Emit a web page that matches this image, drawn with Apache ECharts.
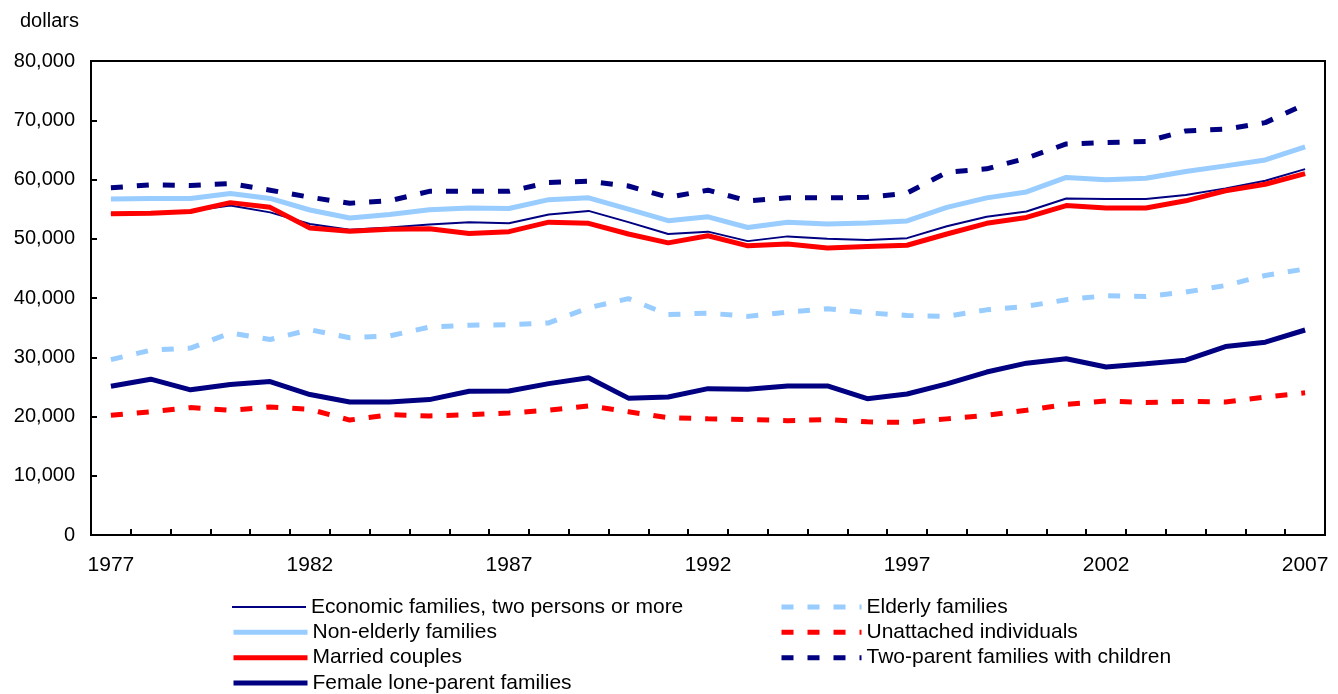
<!DOCTYPE html>
<html>
<head>
<meta charset="utf-8">
<script src="https://cdn.jsdelivr.net/npm/echarts@6/dist/echarts.min.js"></script>
<style>
html,body{margin:0;padding:0;background:#fff;}
#chart{width:1338px;height:694px;}
</style>
</head>
<body>
<div id="chart"></div>
<script>
const years = ['1977','1978','1979','1980','1981','1982','1983','1984','1985','1986','1987','1988','1989','1990','1991','1992','1993','1994','1995','1996','1997','1998','1999','2000','2001','2002','2003','2004','2005','2006','2007'];

const economicFamilies = [54200,54400,54700,55600,54450,52500,51500,51900,52400,52800,52600,54100,54700,52800,50800,51200,49600,50400,50000,49800,50100,52100,53700,54600,56800,56700,56700,57400,58500,59800,61750];
const nonElderly = [56700,56800,56800,57650,56800,54850,53500,54100,54900,55200,55100,56600,56900,55000,53050,53700,51900,52800,52500,52650,53000,55300,56900,57900,60350,59950,60200,61350,62300,63300,65500];
const marriedCouples = [54200,54300,54600,56100,55300,51800,51250,51600,51700,50900,51200,52800,52600,50800,49300,50500,48800,49100,48450,48700,48900,50800,52600,53600,55600,55200,55200,56400,58100,59200,61000];
const femaleLoneParent = [25100,26300,24500,25400,25900,23700,22450,22450,22850,24250,24300,25550,26550,23100,23300,24700,24600,25150,25150,23000,23800,25500,27500,29000,29750,28350,28900,29500,31800,32550,34600];
const elderly = [29600,31200,31550,34100,33000,34650,33300,33600,35100,35400,35500,35800,38350,39900,37200,37450,36900,37600,38200,37500,37050,36900,38000,38600,39700,40400,40250,41000,42100,43800,44900];
const unattached = [20200,20800,21500,21050,21600,21200,19400,20300,20100,20300,20600,21050,21800,20800,19800,19600,19500,19300,19500,19100,19000,19600,20200,21050,22050,22600,22350,22550,22450,23300,24000];
const twoParent = [58600,59100,59000,59300,58200,57000,56000,56400,58000,58000,58000,59500,59700,58900,57000,58200,56400,56900,56900,57000,57700,61200,61800,63600,66000,66250,66400,68200,68500,69600,72700];

const yTicks = { min: 0, max: 80000, interval: 10000 };

const leftLegendNames = ['Economic families, two persons or more', 'Non-elderly families', 'Married couples', 'Female lone-parent families'];
const rightLegendNames = ['Elderly families', 'Unattached individuals', 'Two-parent families with children'];

const NAVY = '#000080', LIGHT = '#99CCFF', RED = '#FF0000';
const FONT = 'Liberation Sans, Arial, sans-serif';
const dash = [12, 14];

const seriesDefs = [
  { name: 'Economic families, two persons or more', data: economicFamilies, color: NAVY, width: 2, type: 'solid' },
  { name: 'Non-elderly families', data: nonElderly, color: LIGHT, width: 5, type: 'solid' },
  { name: 'Elderly families', data: elderly, color: LIGHT, width: 5, type: dash },
  { name: 'Unattached individuals', data: unattached, color: RED, width: 5, type: dash },
  { name: 'Two-parent families with children', data: twoParent, color: NAVY, width: 5, type: dash },
  { name: 'Female lone-parent families', data: femaleLoneParent, color: NAVY, width: 5, type: 'solid' },
  { name: 'Married couples', data: marriedCouples, color: RED, width: 5, type: 'solid' }
];

function legendItem(name) {
  const d = seriesDefs.find(s => s.name === name);
  return {
    name: name,
    itemStyle: { color: 'rgba(0,0,0,0)', borderWidth: 0, opacity: 0 },
    lineStyle: { color: d.color, width: d.width, type: d.type, cap: 'butt' }
  };
}

const rowY = [607, 632.3, 657.7, 683];
const legends = [];
leftLegendNames.forEach((n, i) => legends.push({
  orient: 'horizontal', left: 231, top: rowY[i] - 10.5, padding: 0,
  itemWidth: 74, itemHeight: 14, textStyle: { fontFamily: FONT, fontSize: 21, color: '#000' },
  data: [legendItem(n)], selectedMode: false
}));
rightLegendNames.forEach((n, i) => legends.push({
  orient: 'horizontal', left: 779, top: rowY[i] - 10.5, padding: 0,
  itemWidth: 80, itemHeight: 14, textStyle: { fontFamily: FONT, fontSize: 21, color: '#000' },
  data: [legendItem(n)], selectedMode: false
}));

const chart = echarts.init(document.getElementById('chart'), null, { renderer: 'canvas' });
chart.setOption({
  animation: false,
  backgroundColor: '#fff',
  textStyle: { fontFamily: FONT },
  title: {
    text: 'dollars', left: 15, top: 6,
    textStyle: { fontFamily: FONT, fontSize: 20, fontWeight: 'normal', color: '#000' }
  },
  grid: {
    left: 91, right: 13, top: 61, bottom: 159,
    show: true, borderColor: '#000', borderWidth: 2, backgroundColor: 'transparent'
  },
  legend: legends,
  xAxis: {
    type: 'category', data: years, boundaryGap: true,
    axisLine: { show: true, lineStyle: { color: '#000', width: 2 } },
    axisTick: { show: true, inside: true, length: 6, interval: 0, lineStyle: { color: '#000', width: 2 } },
    axisLabel: { interval: 4, color: '#000', fontSize: 21, fontFamily: FONT, margin: 20 },
    splitLine: { show: false }
  },
  yAxis: {
    type: 'value', min: yTicks.min, max: yTicks.max, interval: yTicks.interval,
    axisLine: { show: true, lineStyle: { color: '#000', width: 2 } },
    axisTick: { show: true, inside: true, length: 6, lineStyle: { color: '#000', width: 2 } },
    axisLabel: {
      color: '#000', fontSize: 20, fontFamily: FONT, margin: 16,
      formatter: function (v) { return v.toLocaleString('en-US'); }
    },
    splitLine: { show: false }
  },
  series: seriesDefs.map(s => ({
    name: s.name, type: 'line', data: s.data, symbol: 'none', silent: true,
    lineStyle: { color: s.color, width: s.width, type: s.type, cap: 'butt' },
    itemStyle: { color: s.color },
    emphasis: { disabled: true }
  }))
});
</script>
</body>
</html>
